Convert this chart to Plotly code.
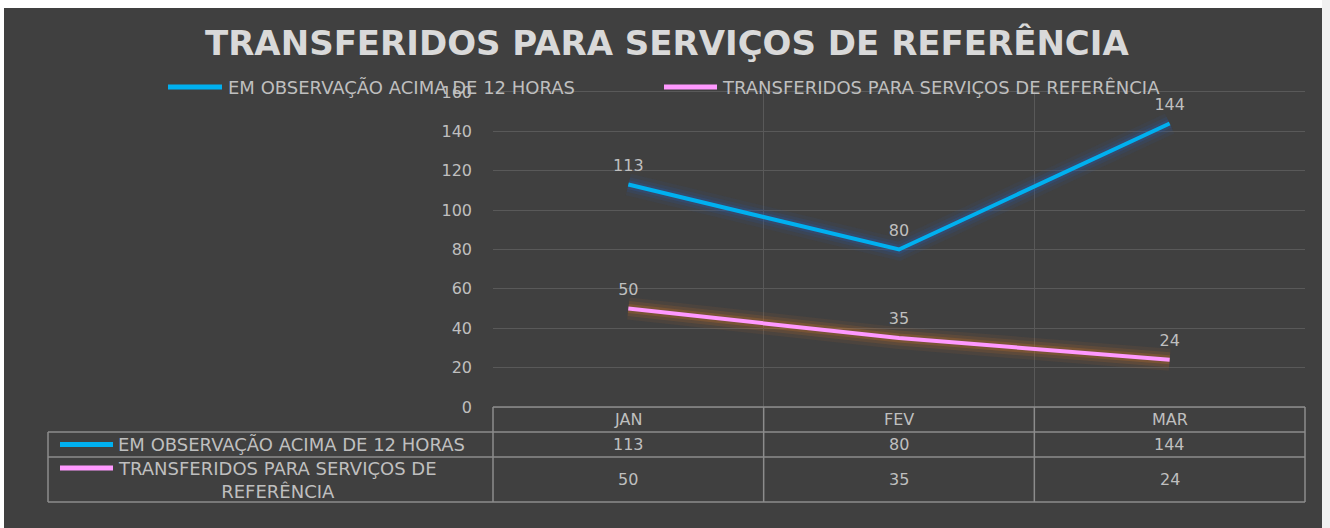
import plotly.graph_objects as go

months = ["JAN", "FEV", "MAR"]
obs_12h = [113, 80, 144]
transferidos = [50, 35, 24]
series_names = ["EM OBSERVAÇÃO ACIMA DE 12 HORAS", "TRANSFERIDOS PARA SERVIÇOS DE REFERÊNCIA"]
table_names = ["EM OBSERVAÇÃO ACIMA DE 12 HORAS", "TRANSFERIDOS PARA SERVIÇOS DE<br>REFERÊNCIA"]
y_ticks = [0, 20, 40, 60, 80, 100, 120, 140, 160]
title_text = "TRANSFERIDOS PARA SERVIÇOS DE REFERÊNCIA"

# page offset of the figure (body margin set by post_script)
OX, OY = 4, 8
W, H = 1318, 520
L, R, T, B = 489, 17, 84, 121
PW, PH = W - L - R, H - T - B
BG = "#404040"
TXT = "#bfbfbf"
GRID = "#595959"
BORDER = "#8c8c8c"
COLORS = ["#00b0f0", "#ff99ff"]
GLOWS = ["rgba(40,90,170,{a})", "rgba(200,115,40,{a})"]
FONT = "DejaVu Sans"


def px(X):
    return (X - OX - L) / PW


def py(Y):
    return (H - B - (Y - OY)) / PH


fig = go.Figure()
all_series = [obs_12h, transferidos]
for s, vals in enumerate(all_series):
    for w, a in [(22, 0.09), (15, 0.15), (9, 0.25)]:
        fig.add_trace(go.Scatter(
            x=months, y=vals, mode="lines",
            line=dict(color=GLOWS[s].format(a=a), width=w),
            hoverinfo="skip", showlegend=False))
for s, vals in enumerate(all_series):
    fig.add_trace(go.Scatter(
        x=months, y=vals, mode="lines+markers+text", name=series_names[s],
        line=dict(color=COLORS[s], width=4),
        marker=dict(size=14, color="rgba(0,0,0,0)"),
        text=[str(v) for v in vals], textposition="top center",
        textfont=dict(color=TXT, size=16, family=FONT),
        showlegend=False))

shapes = []
annotations = []

# legend (top)
leg_items = [(168, 222, 226), (664, 717, 720)]
for s, (x0, x1, xt) in enumerate(leg_items):
    shapes.append(dict(type="line", xref="paper", yref="paper", x0=px(x0), x1=px(x1), y0=py(87), y1=py(87),
                       line=dict(color=COLORS[s], width=5)))
    annotations.append(dict(xref="paper", yref="paper", x=px(xt), y=py(87.5), text=series_names[s],
                            xanchor="left", yanchor="middle", showarrow=False,
                            font=dict(color=TXT, size=18, family=FONT)))

# data table
row_lines = [432, 457, 502]
for yl in [407] + row_lines:
    x_start = 493 if yl == 407 else 48
    shapes.append(dict(type="line", xref="paper", yref="paper", x0=px(x_start), x1=px(1305), y0=py(yl), y1=py(yl),
                       line=dict(color=BORDER, width=1.5)))
shapes.append(dict(type="line", xref="paper", yref="paper", x0=px(48), x1=px(48), y0=py(432), y1=py(502),
                   line=dict(color=BORDER, width=1.5)))
for i in range(len(months) + 1):
    xb = i / len(months)
    shapes.append(dict(type="line", xref="paper", yref="paper", x0=xb, x1=xb, y0=py(407), y1=py(502),
                       line=dict(color=BORDER, width=1.5)))

row_centers = [444.5, 479.5]
for i, m in enumerate(months):
    annotations.append(dict(xref="x", yref="paper", x=m, y=py(419.5), text=m, showarrow=False,
                            xanchor="center", yanchor="middle", font=dict(color=TXT, size=16, family=FONT)))
    for s, vals in enumerate(all_series):
        annotations.append(dict(xref="x", yref="paper", x=m, y=py(row_centers[s]), text=str(vals[i]),
                                showarrow=False, xanchor="center", yanchor="middle",
                                font=dict(color=TXT, size=16, family=FONT)))

key_y = [444.5, 468]
for s in range(2):
    shapes.append(dict(type="line", xref="paper", yref="paper", x0=px(60), x1=px(113), y0=py(key_y[s]), y1=py(key_y[s]),
                       line=dict(color=COLORS[s], width=5)))
    annotations.append(dict(xref="paper", yref="paper", x=px(116), y=py(row_centers[s]), text=table_names[s],
                            showarrow=False, xanchor="left", yanchor="middle", align="center",
                            font=dict(color=TXT, size=18, family=FONT)))

annotations.append(dict(xref="paper", yref="paper", x=px(667), y=py(43), text="<b>" + title_text + "</b>",
                        showarrow=False, xanchor="center", yanchor="middle",
                        font=dict(color="#d9d9d9", size=34, family=FONT)))

fig.update_layout(
    width=W, height=H,
    margin=dict(l=L, r=R, t=T, b=B, pad=0),
    paper_bgcolor=BG, plot_bgcolor=BG,
    showlegend=False,
    shapes=shapes, annotations=annotations,
    xaxis=dict(type="category", range=[-0.5, 2.5], tickson="boundaries", showgrid=True, gridcolor=GRID,
               gridwidth=1, showticklabels=False, ticks="", showline=True, linecolor=GRID, mirror=True,
               zeroline=False, fixedrange=True),
    yaxis=dict(range=[0, 160], tickvals=y_ticks, showgrid=True, gridcolor=GRID, gridwidth=1,
               tickfont=dict(color=TXT, size=16, family=FONT), ticks="", ticklabelstandoff=20,
               zeroline=False, showline=False, fixedrange=True),
)

fig.write_html("out.html", config={"staticPlot": True},
               post_script="document.body.style.margin='8px 0 0 4px'; document.body.style.background='linear-gradient(to right, #ffffff 1322px, #f0f0f0 1322px)';")
